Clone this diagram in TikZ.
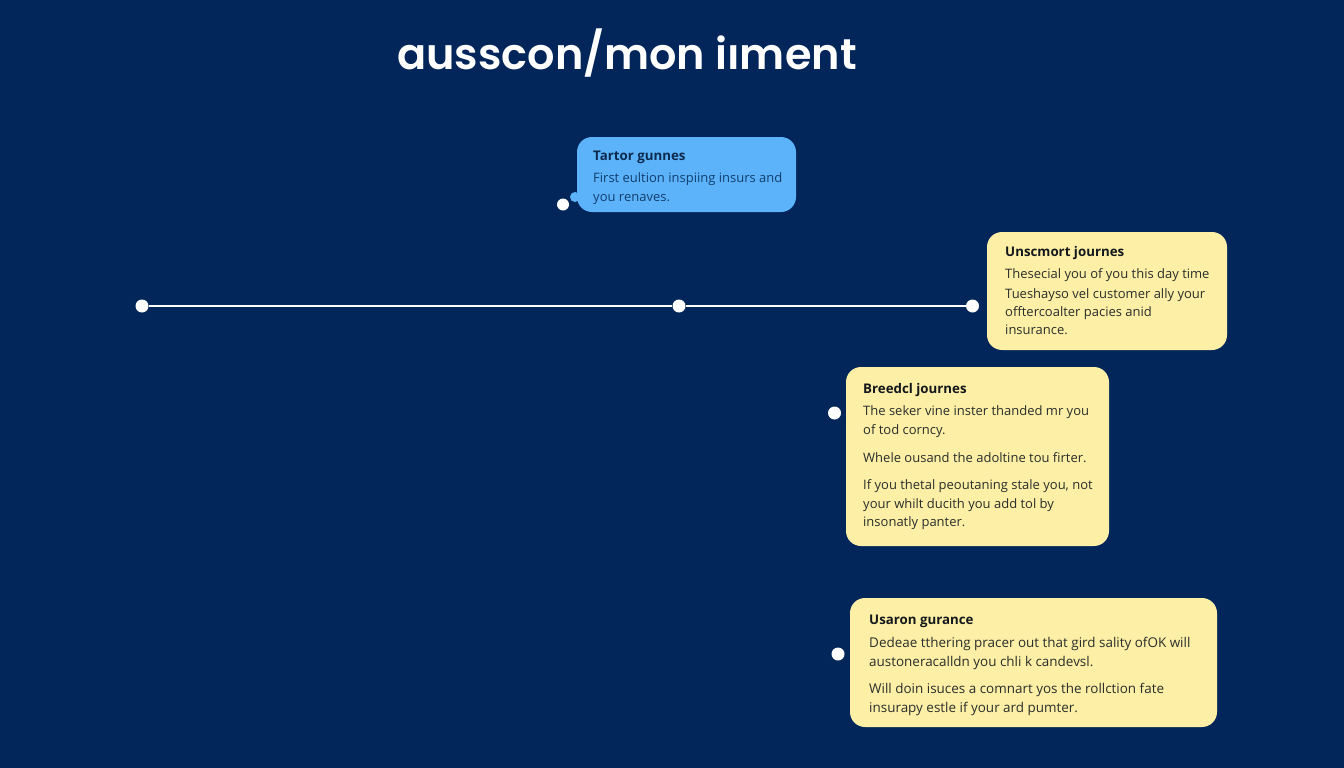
\documentclass[tikz,border=0pt]{standalone}
\usepackage{fontspec}
\setmainfont{Open Sans}
\newfontfamily\titlefont{Poppins}[UprightFont=* SemiBold]
\definecolor{bgc}{HTML}{02265A}
\definecolor{bluec}{HTML}{5CB3FA}
\definecolor{yelc}{HTML}{FDEFA6}
\definecolor{inkc}{HTML}{2A2E2C}
\definecolor{headc}{HTML}{14181C}
\definecolor{blueink}{HTML}{123E6E}
\definecolor{bluehead}{HTML}{0C2A4E}
\tikzset{
 x=1pt,y=-1pt,
 card/.style={rounded corners=15pt,inner sep=0pt,draw=none},
 yelcard/.style={card,fill=yelc},
 bluecard/.style={card,fill=bluec},
 dot/.style={circle,fill=white,draw=none,minimum size=13pt,inner sep=0pt},
 head/.style={anchor=base west,inner sep=0pt,font=\fontsize{13.3}{13.3}\selectfont\bfseries,text=headc},
 body/.style={anchor=base west,inner sep=0pt,font=\fontsize{13}{13}\selectfont,text=inkc},
 widebody/.style={body,font=\fontsize{13.45}{13.45}\selectfont},
 bhead/.style={head,text=bluehead},
 bbody/.style={body,text=blueink},
 wire/.style={draw=white,line width=1.2pt},
}
\begin{document}
\begin{tikzpicture}
\useasboundingbox[fill=bgc] (0,0) rectangle (1344,768);
\node[anchor=base,inner sep=0pt,text=white,font=\titlefont\fontsize{43}{43}\selectfont] (title) at (627,70) {ausscon/mon iıment};
% blue card
\node[circle,fill=bluec,minimum size=10pt,inner sep=0pt] (tail) at (575,197) {};
\path[bluecard] (577,137) rectangle (796,212);
\node[bhead] (b1) at (593,160) {Tartor gunnes};
\node[bbody] (b2) at (593,182) {First eultion inspiing insurs and};
\node[bbody] (b3) at (593,201) {you renaves.};
\node[dot,minimum size=12pt] (d0) at (563,204.5) {};
% timeline
\node[dot] (d1) at (142,306) {};
\node[dot] (d2) at (679,306) {};
\node[dot] (d3) at (972.5,306) {};
\draw[wire] (d1) -- (d2);
\draw[wire] (d2) -- (d3);
% card 1
\path[yelcard] (987,232) rectangle (1227,350);
\node[head] (c11) at (1005,256.5) {Unscmort journes};
\node[body] (c12) at (1005,278) {Thesecial you of you this day time};
\node[body] (c13) at (1005,298) {Tueshayso vel customer ally your};
\node[body] (c14) at (1005,316) {offtercoalter pacies anid};
\node[body] (c15) at (1005,334.5) {insurance.};
% card 2
\path[yelcard] (846,367) rectangle (1109,546);
\node[head] (c21) at (863,393) {Breedcl journes};
\node[body] (c22) at (863,415.5) {The seker vine inster thanded mr you};
\node[body] (c23) at (863,434) {of tod corncy.};
\node[body] (c24) at (863,462) {Whele ousand the adoltine tou firter.};
\node[body] (c25) at (863,489) {If you thetal peoutaning stale you, not};
\node[body] (c26) at (863,508) {your whilt ducith you add tol by};
\node[body] (c27) at (863,526) {insonatly panter.};
\node[dot] (d4) at (834.5,413) {};
% card 3
\path[yelcard] (850,598) rectangle (1217,727);
\node[head] (c31) at (869,624) {Usaron gurance};
\node[widebody] (c32) at (869,647) {Dedeae tthering pracer out that gird sality ofOK will};
\node[widebody] (c33) at (869,666) {austoneracalldn you chli k candevsl.};
\node[widebody] (c34) at (869,693) {Will doin isuces a comnart yos the rollction fate};
\node[widebody] (c35) at (869,712) {insurapy estle if your ard pumter.};
\node[dot] (d5) at (838,654) {};
\end{tikzpicture}
\end{document}
